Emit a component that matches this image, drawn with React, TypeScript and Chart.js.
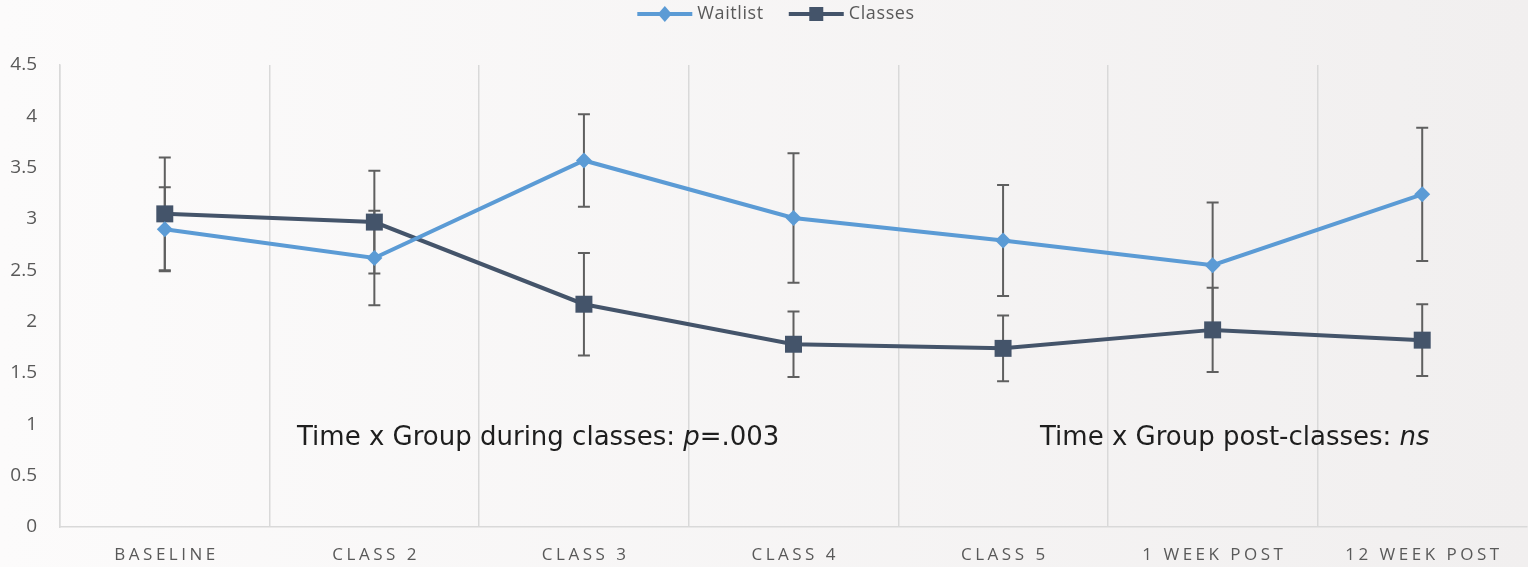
import React, { useEffect, useRef } from "react";
import { Chart, registerables } from "chart.js";

Chart.register(...registerables);

const categories = ["BASELINE", "CLASS 2", "CLASS 3", "CLASS 4", "CLASS 5", "1 WEEK POST", "12 WEEK POST"];
const waitlistMeans = [2.9, 2.62, 3.57, 3.01, 2.79, 2.55, 3.24];
const waitlistErrors = [0.41, 0.46, 0.45, 0.63, 0.54, 0.61, 0.65];
const classesMeans = [3.05, 2.97, 2.17, 1.78, 1.74, 1.92, 1.82];
const classesErrors = [0.55, 0.5, 0.5, 0.32, 0.32, 0.41, 0.35];
const yTicks = [0, 0.5, 1, 1.5, 2, 2.5, 3, 3.5, 4, 4.5];

const WAITLIST_COLOR = "#5b9bd5";
const CLASSES_COLOR = "#44546a";
const ERROR_COLOR = "#5f5f5f";
const AXIS_TEXT = "#595959";
const GRID_COLOR = "#d9d9d9";

const errorBarPlugin = {
  id: "errorBars",
  beforeDatasetsDraw(chart: any) {
    const { ctx } = chart;
    const x = chart.scales.x;
    const y = chart.scales.y;
    const sets = [
      { means: waitlistMeans, errs: waitlistErrors },
      { means: classesMeans, errs: classesErrors },
    ];
    ctx.save();
    ctx.strokeStyle = ERROR_COLOR;
    ctx.lineWidth = 2;
    sets.forEach(({ means, errs }) => {
      means.forEach((m, i) => {
        const px = x.getPixelForValue(i);
        const top = y.getPixelForValue(m + errs[i]);
        const bot = y.getPixelForValue(m - errs[i]);
        ctx.beginPath();
        ctx.moveTo(px, top);
        ctx.lineTo(px, bot);
        ctx.moveTo(px - 6, top);
        ctx.lineTo(px + 6, top);
        ctx.moveTo(px - 6, bot);
        ctx.lineTo(px + 6, bot);
        ctx.stroke();
      });
    });
    ctx.restore();
  },
};

const backgroundPlugin = {
  id: "bg",
  beforeDraw(chart: any) {
    const { ctx, width, height } = chart;
    const grad = ctx.createLinearGradient(0, 0, width, 0);
    grad.addColorStop(0, "#fcfbfb");
    grad.addColorStop(1, "#f1efef");
    ctx.save();
    ctx.fillStyle = grad;
    ctx.fillRect(0, 0, width, height);
    ctx.restore();
  },
};

// Category labels in spaced capitals, centred under each category.
const xLabelPlugin = {
  id: "xLabels",
  afterDraw(chart: any) {
    const { ctx, chartArea } = chart;
    const x = chart.scales.x;
    const spacing = 3.5;
    ctx.save();
    ctx.font = "17px 'Open Sans'";
    ctx.fillStyle = AXIS_TEXT;
    (ctx as any).letterSpacing = `${spacing}px`;
    ctx.textBaseline = "middle";
    categories.forEach((label, i) => {
      const w = ctx.measureText(label).width - spacing;
      ctx.fillText(label, x.getPixelForValue(i) - w / 2, chartArea.bottom + 28);
    });
    ctx.restore();
  },
};

// Legend: a line segment with the series marker, followed by the series name.
const legendPlugin = {
  id: "lineLegend",
  afterDraw(chart: any) {
    const { ctx, width } = chart;
    const items = [
      { label: "Waitlist", color: WAITLIST_COLOR, shape: "diamond" },
      { label: "Classes", color: CLASSES_COLOR, shape: "square" },
    ];
    const lineW = 55;
    const gap = 5;
    const itemGap = 25;
    ctx.save();
    ctx.font = "18px 'Open Sans'";
    (ctx as any).letterSpacing = "0.6px";
    const widths = items.map((it) => lineW + gap + ctx.measureText(it.label).width);
    const total = widths.reduce((a, b) => a + b, 0) + itemGap * (items.length - 1);
    let cx = width / 2 + 12 - total / 2;
    const cy = 14;
    items.forEach((it, i) => {
      ctx.strokeStyle = it.color;
      ctx.fillStyle = it.color;
      ctx.lineWidth = 4;
      ctx.beginPath();
      ctx.moveTo(cx, cy);
      ctx.lineTo(cx + lineW, cy);
      ctx.stroke();
      const mx = cx + lineW / 2;
      if (it.shape === "diamond") {
        ctx.beginPath();
        ctx.moveTo(mx, cy - 8);
        ctx.lineTo(mx + 7, cy);
        ctx.lineTo(mx, cy + 8);
        ctx.lineTo(mx - 7, cy);
        ctx.closePath();
        ctx.fill();
      } else {
        ctx.fillRect(mx - 7, cy - 7, 14, 14);
      }
      ctx.fillStyle = AXIS_TEXT;
      ctx.textBaseline = "middle";
      ctx.fillText(it.label, cx + lineW + gap, cy);
      cx += widths[i] + itemGap;
    });
    ctx.restore();
  },
};

function drawRuns(ctx: CanvasRenderingContext2D, runs: [string, boolean][], x: number, y: number) {
  let cx = x;
  runs.forEach(([text, italic]) => {
    ctx.font = `${italic ? "italic " : ""}26px 'DejaVu Sans'`;
    ctx.fillText(text, cx, y);
    cx += ctx.measureText(text).width;
  });
}

const annotationPlugin = {
  id: "statNotes",
  afterDatasetsDraw(chart: any) {
    const { ctx, chartArea } = chart;
    const y = chart.scales.y.getPixelForValue(0.8);
    ctx.save();
    ctx.fillStyle = "#1e1e1e";
    ctx.textBaseline = "alphabetic";
    drawRuns(ctx, [["Time x Group during classes: ", false], ["p", true], ["=.003", false]], chartArea.left + 237, y);
    drawRuns(ctx, [["Time x Group post-classes: ", false], ["ns", true]], chartArea.left + 980, y);
    ctx.restore();
  },
};

export default function App() {
  const canvasRef = useRef<HTMLCanvasElement | null>(null);

  useEffect(() => {
    if (!canvasRef.current) return;
    const chart = new Chart(canvasRef.current, {
      type: "line",
      data: {
        labels: categories,
        datasets: [
          {
            label: "Waitlist",
            data: waitlistMeans,
            borderColor: WAITLIST_COLOR,
            backgroundColor: WAITLIST_COLOR,
            borderWidth: 4,
            pointStyle: "rectRot",
            pointRadius: 8,
            pointBorderWidth: 0,
            tension: 0,
          },
          {
            label: "Classes",
            data: classesMeans,
            borderColor: CLASSES_COLOR,
            backgroundColor: CLASSES_COLOR,
            borderWidth: 4,
            pointStyle: "rect",
            pointRadius: 12,
            pointBorderWidth: 0,
            tension: 0,
          },
        ],
      },
      options: {
        responsive: false,
        animation: false,
        layout: { autoPadding: false, padding: { top: 65, right: 1, bottom: 0, left: 0 } },
        plugins: {
          tooltip: { enabled: false },
          legend: { display: false },
        },
        scales: {
          x: {
            type: "category",
            offset: true,
            grid: {
              display: true,
              offset: true,
              // dividers only before each category, none after the last one
              color: (c: any) => (c.type === "tick" ? GRID_COLOR : "rgba(0,0,0,0)"),
              lineWidth: 1.5,
              drawTicks: false,
            },
            border: { display: true, color: GRID_COLOR, width: 1.5 },
            ticks: { color: "rgba(0,0,0,0)", padding: 0, font: { size: 10 }, maxRotation: 0, autoSkip: false },
            afterFit: (s: any) => {
              s.height = 40;
              s.paddingLeft = 0;
              s.paddingRight = 0;
            },
          },
          y: {
            min: 0,
            max: 4.5,
            afterBuildTicks: (axis: any) => {
              axis.ticks = yTicks.map((v) => ({ value: v }));
            },
            grid: { display: false, drawTicks: false },
            border: { display: true, color: GRID_COLOR, width: 1.5 },
            ticks: {
              color: AXIS_TEXT,
              padding: 23,
              font: { family: "'Open Sans'", size: 19 },
              callback: (v: any) => String(v),
            },
            afterFit: (s: any) => {
              s.width = 60;
            },
          },
        },
      },
      plugins: [backgroundPlugin, errorBarPlugin, annotationPlugin, xLabelPlugin, legendPlugin],
    });
    return () => chart.destroy();
  }, []);

  return (
    <div style={{ position: "fixed", left: 0, top: 0, width: 1528, height: 567 }}>
      <canvas ref={canvasRef} width={1528} height={567} />
    </div>
  );
}
